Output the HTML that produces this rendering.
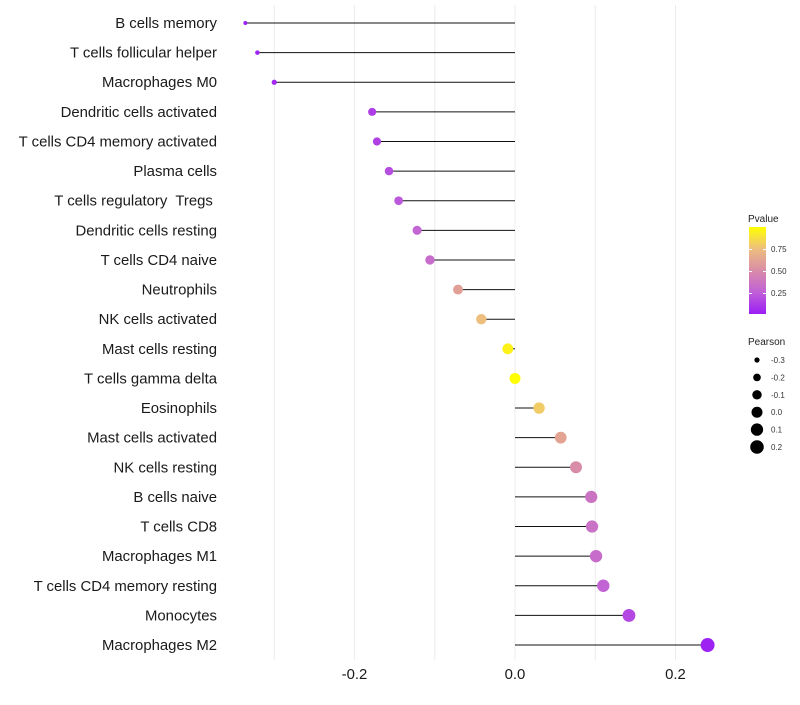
<!DOCTYPE html>
<html><head><meta charset="utf-8"><style>
body{margin:0;background:#fff;font-family:"Liberation Sans",sans-serif}
svg text{font-family:"Liberation Sans",sans-serif;white-space:pre}
</style></head><body>
<svg id="chart" width="800" height="700" xmlns="http://www.w3.org/2000/svg">
<defs><linearGradient id="pg" x1="0" y1="1" x2="0" y2="0">
<stop offset="0" stop-color="#9B1EF5"/><stop offset="0.25" stop-color="#C060D8"/><stop offset="0.5" stop-color="#D98CA8"/><stop offset="0.75" stop-color="#EEBE7E"/><stop offset="1" stop-color="#FFFF00"/></linearGradient></defs>
<g id="grid"></g>
<g id="marks"></g>
<g id="ylabels"></g>
<g id="xlabels"></g>
<g>
<text x="748" y="222" font-size="10" fill="#222">Pvalue</text>
<rect x="749" y="227" width="17" height="87" fill="url(#pg)"/>
<g fill="#fff"><rect x="749" y="249" width="3" height="1"/><rect x="763" y="249" width="3" height="1"/><rect x="749" y="271" width="3" height="1"/><rect x="763" y="271" width="3" height="1"/><rect x="749" y="293" width="3" height="1"/><rect x="763" y="293" width="3" height="1"/></g>
<text x="771" y="252" font-size="8" fill="#333">0.75</text>
<text x="771" y="274" font-size="8" fill="#333">0.50</text>
<text x="771" y="296" font-size="8" fill="#333">0.25</text>
</g>
<g id="sizeleg">
<text x="748" y="345" font-size="10" fill="#222">Pearson</text>
</g>
</svg>
<script>
const categories=["B cells memory","T cells follicular helper","Macrophages M0","Dendritic cells activated","T cells CD4 memory activated","Plasma cells","T cells regulatory  Tregs ","Dendritic cells resting","T cells CD4 naive","Neutrophils","NK cells activated","Mast cells resting","T cells gamma delta","Eosinophils","Mast cells activated","NK cells resting","B cells naive","T cells CD8","Macrophages M1","T cells CD4 memory resting","Monocytes","Macrophages M2"];
const pearson=[-0.336,-0.321,-0.300,-0.178,-0.172,-0.157,-0.145,-0.122,-0.106,-0.071,-0.042,-0.009,0.0,0.030,0.057,0.076,0.095,0.096,0.101,0.110,0.142,0.240];
const pvalues=[0.02,0.03,0.04,0.12,0.13,0.18,0.22,0.28,0.32,0.6,0.75,0.95,1.0,0.8,0.62,0.5,0.36,0.35,0.32,0.27,0.16,0.02];
const xTicks=[-0.2,0.0,0.2];
const xGrid=[-0.3,-0.2,-0.1,0.0,0.1,0.2];
const sizeLegend=[-0.3,-0.2,-0.1,0.0,0.1,0.2];
const NS="http://www.w3.org/2000/svg";
const x=v=>515+v*802.5;
const y=i=>23+i*29.62;
const r=v=>Math.sqrt(Math.max(1,30.2+78*v));
function lerp(a,b,t){return Math.round(a+(b-a)*t);}
const stops=[[0,[155,30,245]],[0.25,[192,96,216]],[0.5,[217,140,168]],[0.75,[238,190,126]],[1,[255,255,0]]];
function col(p){for(let k=0;k<stops.length-1;k++){const[a,ca]=stops[k],[b,cb]=stops[k+1];if(p<=b){const t=(p-a)/(b-a);return`rgb(${lerp(ca[0],cb[0],t)},${lerp(ca[1],cb[1],t)},${lerp(ca[2],cb[2],t)})`;}}return"rgb(255,255,0)";}
function mk(tag,attrs,parent){const e=document.createElementNS(NS,tag);for(const k in attrs)e.setAttribute(k,attrs[k]);document.getElementById(parent).appendChild(e);return e;}
xGrid.forEach(v=>{const l=mk("line",{x1:x(v),x2:x(v),y1:5,y2:660,stroke:"#ececec","stroke-width":1},"grid");

});
categories.forEach((c,i)=>{
const l=mk("line",{x1:x(0),x2:x(pearson[i]),y1:y(i),y2:y(i),stroke:"#111","stroke-width":1},"marks");


const d=mk("circle",{cx:x(pearson[i]),cy:y(i),r:r(pearson[i]),fill:col(pvalues[i])},"marks");


const t=mk("text",{x:217,y:y(i)+5,"text-anchor":"end","font-size":14.9,fill:"#1a1a1a"},"ylabels");
t.textContent=c;


});
xTicks.forEach(v=>{const t=mk("text",{x:x(v),y:679,"text-anchor":"middle","font-size":14.9,fill:"#1a1a1a"},"xlabels");
t.textContent=v.toFixed(1);

});
sizeLegend.forEach((v,i)=>{const cy=360+i*17.4;
const c=mk("circle",{cx:757,cy:cy,r:r(v),fill:"#000"},"sizeleg");


const t=mk("text",{x:771,y:cy+3,"font-size":8,fill:"#333"},"sizeleg");
t.textContent=v.toFixed(1);

});
</script>
</body></html>
